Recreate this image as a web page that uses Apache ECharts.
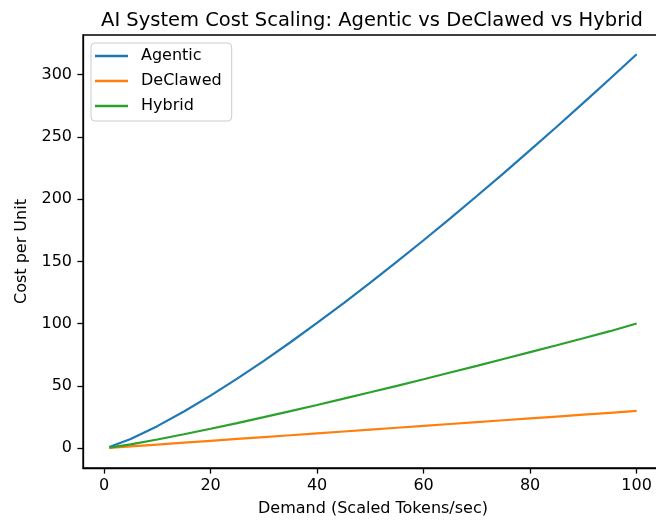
<!DOCTYPE html>
<html>
<head>
<meta charset="utf-8">
<script src="https://cdn.jsdelivr.net/npm/echarts@6/dist/echarts.min.js"></script>
<style>html,body{margin:0;padding:0;background:#fff;overflow:hidden}#c{width:700px;height:522px}</style>
</head>
<body>
<div id="c"></div>
<script>
const demand = [1, 5, 10, 15, 20, 25, 30, 35, 40, 45, 50, 55, 60, 65, 70, 75, 80, 85, 90, 95, 100];
const agentic = [1.0, 7.48, 17.78, 29.52, 42.29, 55.9, 70.21, 85.13, 100.6, 116.55, 132.96, 149.78, 166.99, 184.56, 202.48, 220.71, 239.26, 258.09, 277.21, 296.59, 316.23];
const declawed = [0.3, 1.5, 3.0, 4.5, 6.0, 7.5, 9.0, 10.5, 12.0, 13.5, 15.0, 16.5, 18.0, 19.5, 21.0, 22.5, 24.0, 25.5, 27.0, 28.5, 30.0];
const hybrid = [0.5, 3.18, 7.06, 11.26, 15.67, 20.25, 24.98, 29.83, 34.78, 39.83, 44.95, 50.15, 55.43, 60.8, 66.2, 71.7, 77.2, 82.7, 88.3, 94.0, 100.2];
const xTicks = [0, 20, 40, 60, 80, 100];
const yTicks = [0, 50, 100, 150, 200, 250, 300];
const seriesNames = ['Agentic', 'DeClawed', 'Hybrid'];
const colors = ['#1f77b4', '#ff7f0e', '#2ca02c'];

const F = 'DejaVu Sans';
const chart = echarts.init(document.getElementById('c'), null, {renderer: 'canvas'});
const mk = (arr) => demand.map((x, i) => [x, arr[i]]);
const allData = [agentic, declawed, hybrid];

chart.setOption({
  animation: false,
  backgroundColor: '#fff',
  title: {
    text: 'AI System Cost Scaling: Agentic vs DeClawed vs Hybrid',
    left: 367, top: 6, textAlign: 'center',
    textStyle: {fontFamily: F, fontSize: 19.5, fontWeight: 'normal', color: '#000'}
  },
  legend: {
    orient: 'vertical', left: 91, top: 43,
    padding: [4, 10, 6, 4],
    borderColor: '#cccccc', borderWidth: 1, borderRadius: 4,
    backgroundColor: 'rgba(255,255,255,0.8)',
    icon: 'rect', itemWidth: 33, itemHeight: 2.4, itemGap: 7,
    data: seriesNames,
    textStyle: {fontFamily: F, fontSize: 16, color: '#000', lineHeight: 18, padding: [0, 0, 0, 8]}
  },
  grid: {
    left: 83, top: 35, width: 580, height: 435,
    show: true, borderColor: '#000', borderWidth: 1.3, containLabel: false
  },
  xAxis: {
    type: 'value', min: -3.95, max: 104.95,
    name: 'Demand (Scaled Tokens/sec)', nameLocation: 'middle', nameGap: 33,
    nameTextStyle: {fontFamily: F, fontSize: 16, color: '#000'},
    axisLine: {show: true, onZero: false, lineStyle: {color: '#000', width: 1.3}},
    axisTick: {show: true, length: 5.6, lineStyle: {color: '#000', width: 1.3}, customValues: xTicks},
    axisLabel: {fontFamily: F, fontSize: 16, color: '#000', margin: 10, customValues: xTicks},
    splitLine: {show: false}
  },
  yAxis: {
    type: 'value', min: -15.8, max: 331.7,
    name: 'Cost per Unit', nameLocation: 'middle', nameGap: 53, nameRotate: 90,
    nameTextStyle: {fontFamily: F, fontSize: 16, color: '#000'},
    axisLine: {show: true, onZero: false, lineStyle: {color: '#000', width: 1.3}},
    axisTick: {show: true, length: 5.6, lineStyle: {color: '#000', width: 1.3}, customValues: yTicks},
    axisLabel: {fontFamily: F, fontSize: 16, color: '#000', margin: 11, customValues: yTicks},
    splitLine: {show: false}
  },
  series: seriesNames.map((n, i) => ({
    name: n, type: 'line', data: mk(allData[i]),
    showSymbol: false, symbol: 'none', smooth: false,
    lineStyle: {color: colors[i], width: 2.2},
    itemStyle: {color: colors[i]},
    clip: true
  }))
});
</script>
</body>
</html>
